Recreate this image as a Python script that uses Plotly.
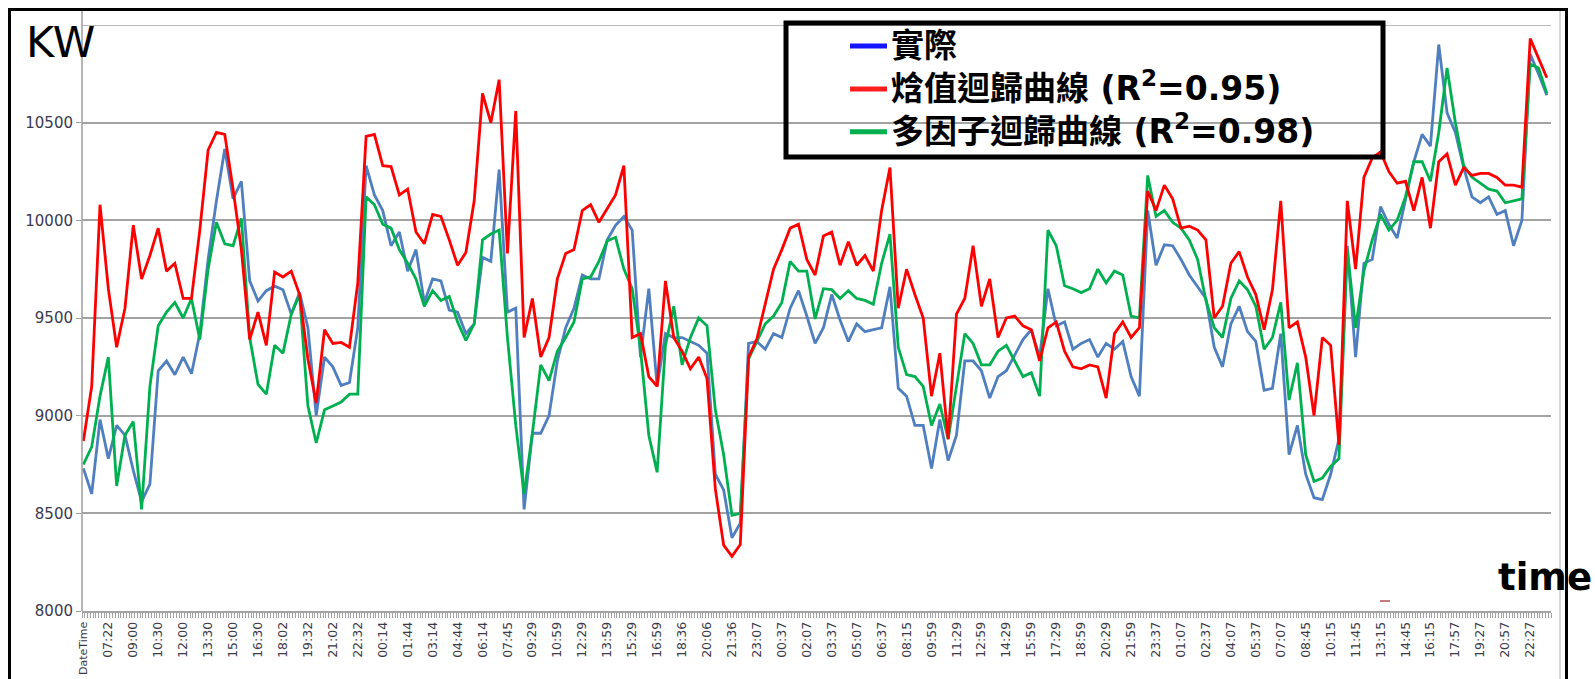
import plotly.graph_objects as go

# ---------------- data (kW, sampled every 3rd 10-min category) ----------------
actual = [
    8730, 8600, 8980, 8780, 8950, 8900, 8720, 8560, 8650, 9230,
    9280, 9210, 9300, 9215, 9420, 9800, 10100, 10365, 10110, 10200,
    9690, 9587, 9640, 9663, 9645, 9520, 9630, 9450, 9000, 9300,
    9250, 9155, 9170, 9450, 10280, 10130, 10050, 9870, 9940, 9740,
    9850, 9580, 9700, 9690, 9540, 9530, 9420, 9470, 9810, 9790,
    10260, 9530, 9550, 8520, 8910, 8910, 9000, 9280, 9450, 9550,
    9720, 9700, 9700, 9900, 9975, 10020, 9950, 9300, 9650, 9150,
    9420, 9400, 9400, 9380, 9360, 9320, 8700, 8620, 8375, 8450,
    9370, 9380, 9340, 9420, 9400, 9550, 9640, 9510, 9370, 9450,
    9620, 9490, 9380, 9470, 9430, 9440, 9450, 9660, 9140, 9100,
    8950, 8950, 8730, 8980, 8770, 8900, 9280, 9280, 9230, 9090,
    9200, 9230, 9310, 9390, 9440, 9300, 9650, 9460, 9480, 9340,
    9370, 9390, 9300, 9370, 9340, 9380, 9200, 9100, 10050, 9770,
    9875, 9870, 9800, 9720, 9660, 9600, 9350, 9250, 9470, 9560,
    9430, 9380, 9130, 9140, 9420, 8800, 8950, 8700, 8580, 8570,
    8700, 8880, 9870, 9300, 9780, 9800, 10070, 9980, 9910, 10100,
    10300, 10440, 10380, 10900, 10550, 10450, 10270, 10120, 10090, 10120,
    10030, 10050, 9870, 10000, 10850, 10750, 10640,
]
enthalpy = [
    8870, 9150, 10080, 9650, 9350, 9550, 9975, 9700, 9820, 9960,
    9740, 9780, 9600, 9600, 9950, 10360, 10450, 10440, 10160, 9850,
    9390, 9530, 9360, 9735, 9710, 9740, 9620, 9290, 9065, 9440,
    9370, 9375, 9350, 9680, 10430, 10440, 10280, 10275, 10130, 10160,
    9940, 9880, 10030, 10020, 9900, 9770, 9835, 10100, 10650, 10500,
    10720, 9830, 10560, 9400, 9600, 9300, 9400, 9700, 9830, 9850,
    10050, 10080, 9990, 10060, 10130, 10280, 9400, 9420, 9200, 9150,
    9690, 9400, 9330, 9240, 9300, 9190, 8625, 8337, 8280, 8340,
    9300, 9394, 9580, 9750, 9850, 9960, 9980, 9800, 9720, 9920,
    9940, 9770, 9890, 9770, 9820, 9740, 10050, 10270, 9550, 9750,
    9620, 9500, 9100, 9320, 8880, 9520, 9600, 9870, 9560, 9700,
    9400, 9500, 9510, 9460, 9440, 9280, 9450, 9480, 9330, 9250,
    9240, 9260, 9250, 9090, 9420, 9480, 9400, 9450, 10150, 10050,
    10180, 10110, 9960, 9970, 9950, 9900, 9500, 9560, 9780, 9840,
    9710, 9620, 9440, 9644, 10100, 9450, 9480, 9300, 9000, 9400,
    9360, 8850, 10100, 9750, 10220, 10320, 10350, 10250, 10190, 10200,
    10050, 10220, 9960, 10300, 10340, 10180, 10270, 10230, 10240, 10240,
    10220, 10180, 10180, 10170, 10930, 10830, 10730,
]
multifactor = [
    8750, 8840, 9100, 9300, 8640, 8900, 8970, 8520, 9150, 9460,
    9530, 9580, 9500, 9600, 9390, 9750, 9990, 9880, 9870, 10010,
    9400, 9160, 9110, 9360, 9320, 9520, 9620, 9050, 8860, 9030,
    9050, 9070, 9110, 9110, 10120, 10080, 9980, 9960, 9850, 9780,
    9700, 9560, 9640, 9590, 9610, 9480, 9385, 9470, 9900, 9930,
    9950, 9400, 8950, 8600, 8910, 9260, 9180, 9330, 9400, 9480,
    9700, 9710, 9790, 9895, 9913, 9750, 9650, 9340, 8900, 8710,
    9360, 9560, 9260, 9400, 9500, 9460, 9030, 8800, 8490, 8500,
    9290, 9380, 9470, 9510, 9580, 9790, 9740, 9740, 9495, 9650,
    9645, 9600, 9640, 9600, 9590, 9570, 9780, 9930, 9350, 9210,
    9200, 9150, 8950, 9060, 8880, 9150, 9420, 9370, 9260, 9260,
    9330, 9360, 9280, 9200, 9220, 9100, 9950, 9870, 9665, 9650,
    9630, 9650, 9750, 9680, 9740, 9720, 9510, 9500, 10230, 10020,
    10050, 9990, 9960, 9900, 9800, 9590, 9450, 9400, 9600, 9690,
    9645, 9560, 9340, 9400, 9580, 9080, 9270, 8800, 8663, 8680,
    8740, 8780, 9850, 9450, 9740, 9900, 10030, 9950, 10000, 10120,
    10300, 10300, 10200, 10450, 10780, 10500, 10280, 10220, 10190, 10160,
    10150, 10090, 10100, 10110, 10800, 10780, 10650,
]
SAMPLE_STEP = 3          # one stored value every 3 categories
N_CATEGORIES = 530       # 10-minute categories on the axis
LABEL_EVERY = 9          # a category label is shown every 9 categories

first_label = "DateTime"
times_day1 = ["07:22", "09:00", "10:30", "12:00", "13:30", "15:00", "16:30", "18:02",
              "19:32", "21:02", "22:32"]
times_day2 = ["00:14", "01:44", "03:14", "04:44", "06:14", "07:45", "09:29", "10:59",
              "12:29", "13:59", "15:29", "16:59", "18:36", "20:06", "21:36", "23:07"]
times_day3 = ["00:37", "02:07", "03:37", "05:07", "06:37", "08:15", "09:59", "11:29",
              "12:59", "14:29", "15:59", "17:29", "18:59", "20:29", "21:59", "23:37"]
times_day4 = ["01:07", "02:37", "04:07", "05:37", "07:07", "08:45", "10:15", "11:45",
              "13:15", "14:45", "16:15", "17:57", "19:27", "20:57", "22:27"]

legend_names = ["實際", "焓值迴歸曲線 (R<sup>2</sup>=0.95)", "多因子迴歸曲線 (R<sup>2</sup>=0.98)"]
y_ticks = [8000, 8500, 9000, 9500, 10000, 10500]
y_top = 11000

# ---------------- derived ----------------
tick_text = ([f'<span style="font-size:11px">{first_label}</span>']
             + times_day1 + times_day2 + times_day3 + times_day4)
tick_vals = [i * LABEL_EVERY for i in range(len(tick_text))]
x_cat = [k * SAMPLE_STEP for k in range(len(actual))]

# ---------------- layout geometry (pixels) ----------------
W, H = 1595, 679
PL, PR, PT, PB = 82, 1551, 25, 611


def px(x):
    return (x - PL) / (PR - PL)


def py(y):
    return (PB - y) / (PB - PT)


GRID = "#A3A3A3"
fig = go.Figure()
fig.add_trace(go.Scatter(x=x_cat, y=actual, mode="lines", name="實際",
                         line=dict(color="#4F7FBF", width=2.8), showlegend=False))
fig.add_trace(go.Scatter(x=x_cat, y=multifactor, mode="lines", name="多因子迴歸曲線",
                         line=dict(color="#00B050", width=2.8), showlegend=False))
fig.add_trace(go.Scatter(x=x_cat, y=enthalpy, mode="lines", name="焓值迴歸曲線",
                         line=dict(color="#FF0000", width=2.8), showlegend=False))

fig.update_layout(
    width=W, height=H,
    margin=dict(l=PL, r=W - PR, t=PT, b=H - PB, pad=0, autoexpand=False),
    paper_bgcolor="white", plot_bgcolor="white",
    showlegend=False,
    xaxis=dict(
        range=[-0.5, N_CATEGORIES - 0.5], automargin=False,
        tickmode="array", tickvals=tick_vals, ticktext=tick_text,
        tickangle=-90, ticks="", ticklabelstandoff=4,
        tickfont=dict(family="DejaVu Sans", size=12.5, color="#3A3A48"),
        showgrid=False, zeroline=False,
        showline=True, linecolor=GRID, linewidth=1.6,
        minor=dict(tickmode="linear", tick0=-0.5, dtick=1, ticks="outside",
                   ticklen=5, tickwidth=1, tickcolor=GRID, showgrid=False),
    ),
    yaxis=dict(
        range=[8000, y_top], automargin=False,
        tickmode="array", tickvals=y_ticks, ticktext=[str(v) for v in y_ticks],
        ticks="outside", ticklen=5, tickcolor=GRID, tickwidth=1.4,
        tickfont=dict(family="DejaVu Sans", size=15, color="#3A3A50"),
        showgrid=True, gridcolor=GRID, gridwidth=1.6,
        zeroline=False, showline=False,
    ),
)

shapes = []
# top gridline of the value axis
shapes.append(dict(type="line", xref="paper", yref="y", x0=0, x1=1, y0=y_top, y1=y_top,
                   line=dict(color=GRID, width=1.6), layer="below"))
# extended value-axis line
shapes.append(dict(type="line", xref="paper", yref="paper", x0=px(82), x1=px(82),
                   y0=py(611), y1=py(11), line=dict(color=GRID, width=1.6)))
# right grey frame line
shapes.append(dict(type="line", xref="paper", yref="paper", x0=px(1560), x1=px(1560),
                   y0=py(10), y1=py(685), line=dict(color="#C8C8C8", width=1.5)))
# outer black frame
shapes.append(dict(type="rect", xref="paper", yref="paper", x0=px(9.5), x1=px(1566.5),
                   y0=py(700), y1=py(9.5), line=dict(color="black", width=3),
                   fillcolor="rgba(0,0,0,0)", layer="above"))
# legend box
shapes.append(dict(type="rect", xref="paper", yref="paper", x0=px(786), x1=px(1383),
                   y0=py(157), y1=py(23), line=dict(color="black", width=5),
                   fillcolor="rgba(0,0,0,0)", layer="above"))
# tiny stray mark above the axis
shapes.append(dict(type="line", xref="paper", yref="paper", x0=px(1380), x1=px(1390),
                   y0=py(601), y1=py(601), line=dict(color="#B05050", width=1.5)))

# legend: colour swatches + one three-line text block
LEG_SIZE = 33
line_h = 1.3 * LEG_SIZE
first_row = 46
legend_colors = ["#1414FF", "#FF1E1E", "#00B050"]
for i, col in enumerate(legend_colors):
    yrow = first_row + i * line_h
    shapes.append(dict(type="line", xref="paper", yref="paper", x0=px(850), x1=px(887),
                       y0=py(yrow), y1=py(yrow), line=dict(color=col, width=5), layer="above"))

annotations = [
    dict(text="<br>".join(f"<b>{n}</b>" for n in legend_names), xref="paper", yref="paper",
         x=px(889), y=py(first_row + line_h), xanchor="left", yanchor="middle", align="left",
         showarrow=False,
         font=dict(family="DejaVu Sans, Noto Sans CJK TC", size=LEG_SIZE, color="black")),
    dict(text="KW", xref="paper", yref="paper", x=px(24), y=py(42),
         xanchor="left", yanchor="middle", showarrow=False,
         font=dict(family="DejaVu Sans", size=43, color="black")),
    dict(text="<b>time</b>", xref="paper", yref="paper", x=px(1496), y=py(577),
         xanchor="left", yanchor="middle", showarrow=False,
         font=dict(family="DejaVu Sans", size=37, color="black")),
]

fig.update_layout(shapes=shapes, annotations=annotations)

fig.write_html("out.html", config={"displayModeBar": False},
               post_script="document.body.style.margin='0';document.body.style.overflow='hidden';")
